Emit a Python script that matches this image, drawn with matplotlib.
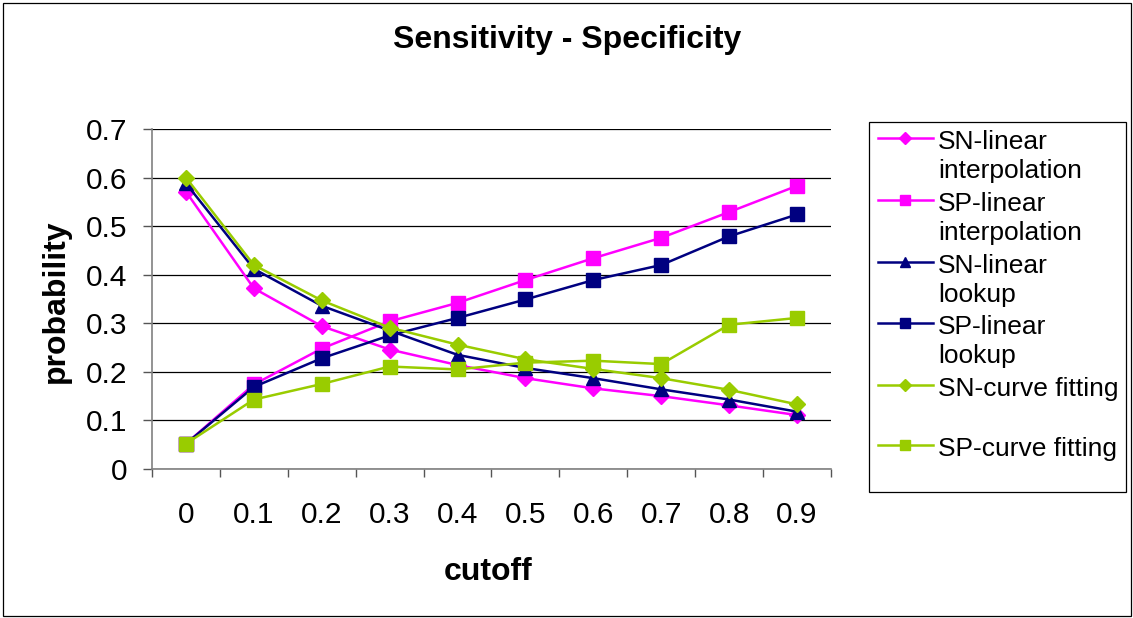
import numpy as np
import matplotlib.pyplot as plt
from matplotlib.lines import Line2D
from matplotlib.patches import Rectangle

plt.rcParams['font.family'] = ['Liberation Sans', 'DejaVu Sans']

cutoffs = ['0', '0.1', '0.2', '0.3', '0.4', '0.5', '0.6', '0.7', '0.8', '0.9']

sn_lin_interp = [0.571, 0.372, 0.294, 0.246, 0.214, 0.187, 0.166, 0.150, 0.131, 0.111]
sp_lin_interp = [0.052, 0.174, 0.248, 0.304, 0.342, 0.389, 0.434, 0.476, 0.529, 0.583]
sn_lin_lookup = [0.588, 0.412, 0.336, 0.285, 0.235, 0.208, 0.187, 0.164, 0.143, 0.118]
sp_lin_lookup = [0.052, 0.169, 0.228, 0.275, 0.311, 0.349, 0.389, 0.420, 0.479, 0.524]
sn_curve_fit = [0.600, 0.420, 0.347, 0.291, 0.256, 0.226, 0.206, 0.187, 0.163, 0.133]
sp_curve_fit = [0.052, 0.143, 0.175, 0.211, 0.205, 0.219, 0.223, 0.216, 0.297, 0.311]

labels = ['SN-linear\ninterpolation', 'SP-linear\ninterpolation',
          'SN-linear\nlookup', 'SP-linear\nlookup',
          'SN-curve fitting', 'SP-curve fitting']

MAGENTA = '#FF00FF'
NAVY = '#000080'
GREEN = '#99CC00'

series = [
    (sn_lin_interp, MAGENTA, 'D', 8.5),
    (sp_lin_interp, MAGENTA, 's', 10.5),
    (sn_lin_lookup, NAVY, '^', 10),
    (sp_lin_lookup, NAVY, 's', 10.5),
    (sn_curve_fit, GREEN, 'D', 8.5),
    (sp_curve_fit, GREEN, 's', 10.5),
]

W, H = 1133, 618
fig = plt.figure(figsize=(W / 100, H / 100), dpi=100)
fig.patch.set_facecolor('white')


def fx(px):
    return px / W


def fy(py):
    return 1 - py / H


# outer chart border
fig.patches.append(Rectangle((fx(3), fy(616)), (W - 5) / W, 613 / H,
                             transform=fig.transFigure, fill=False,
                             edgecolor='black', linewidth=0.9))

ax = fig.add_axes([fx(152), fy(469), 679 / W, 340 / H])
x = np.arange(len(cutoffs))

for vals, color, marker, ms in series:
    ax.plot(x, vals, color=color, linewidth=1.8, marker=marker,
            markersize=ms, markerfacecolor=color, markeredgecolor=color,
            clip_on=False)

ax.set_xlim(-0.5, len(cutoffs) - 0.5)
ax.set_ylim(0, 0.7)
ax.set_yticks(np.arange(0, 0.71, 0.1))
ax.set_yticklabels(['0', '0.1', '0.2', '0.3', '0.4', '0.5', '0.6', '0.7'])
ax.set_xticks(x)
ax.set_xticklabels(cutoffs)
ax.set_xticks(np.arange(-0.5, len(cutoffs), 1.0), minor=True)
ax.tick_params(axis='x', which='major', length=0, pad=23, labelsize=21.5)
ax.tick_params(axis='x', which='minor', length=6, width=1.0, color='#555555')
ax.tick_params(axis='y', length=6.5, width=1.0, color='#555555', pad=11,
               labelsize=21.5)

ax.yaxis.grid(True, color='black', linewidth=0.9)
ax.set_axisbelow(True)
for side in ('top', 'right'):
    ax.spines[side].set_visible(False)
for side in ('left', 'bottom'):
    ax.spines[side].set_color('#808080')
    ax.spines[side].set_linewidth(1.2)

fig.text(fx(567), fy(48), 'Sensitivity - Specificity', ha='center',
         va='baseline', fontsize=23, fontweight='bold')
fig.text(fx(56), fy(301), 'probability', ha='center', va='center',
         rotation=90, fontsize=23, fontweight='bold')
fig.text(fx(488), fy(580), 'cutoff', ha='center', va='baseline',
         fontsize=23, fontweight='bold')

# legend box drawn by hand so each marker sits on the first text line
lx0, ly0, lx1, ly1 = 869, 122, 1126, 492
fig.patches.append(Rectangle((fx(lx0), fy(ly1)), (lx1 - lx0) / W,
                             (ly1 - ly0) / H, transform=fig.transFigure,
                             fill=False, edgecolor='black', linewidth=0.9))
row_y = [138, 200, 262, 323, 385, 445]
for (vals, color, marker, ms), lab, yy in zip(series, labels, row_y):
    fig.lines.append(Line2D([fx(878), fx(933)], [fy(yy), fy(yy)],
                            transform=fig.transFigure, color=color,
                            linewidth=1.8))
    fig.lines.append(Line2D([fx(905)], [fy(yy)], transform=fig.transFigure,
                            marker=marker, markersize=ms * 0.75,
                            color=color, markerfacecolor=color,
                            markeredgecolor=color))
    for i, line in enumerate(lab.split('\n')):
        fig.text(fx(938), fy(yy + 11 + 29 * i), line, ha='left',
                 va='baseline', fontsize=19)

fig.savefig('out.png', dpi=100)
